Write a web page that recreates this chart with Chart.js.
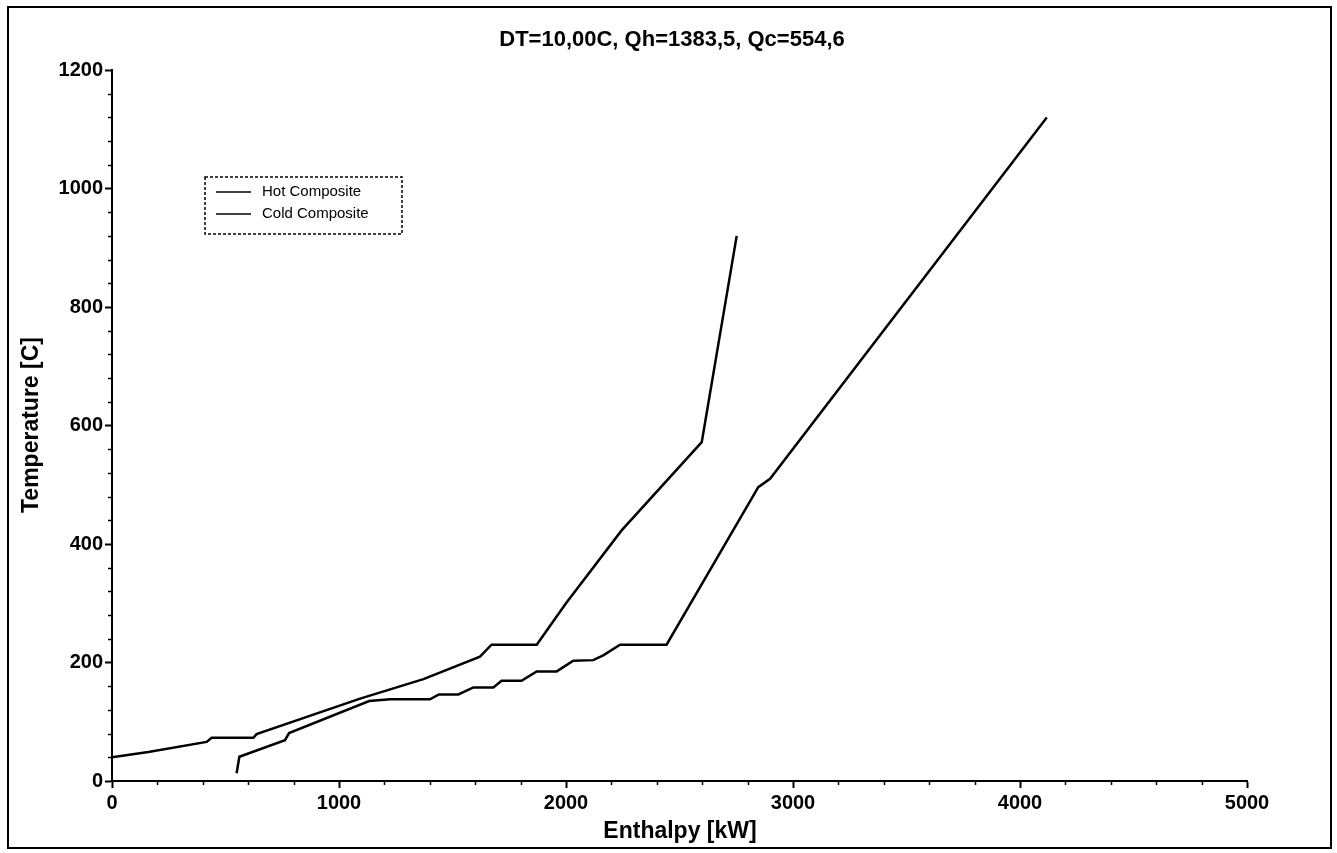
<!DOCTYPE html>
<html>
<head>
<meta charset="utf-8">
<title>Composite Curves</title>
<script src="https://cdn.jsdelivr.net/npm/chart.js@4.4.1/dist/chart.umd.min.js"></script>
<style>
  html, body { margin: 0; padding: 0; background: #fff; }
  #wrap { width: 1337px; height: 853px; position: relative; }
</style>
</head>
<body>
<div id="wrap"><canvas id="chartId"></canvas></div>
<script>
const chartTitle = "DT=10,00C, Qh=1383,5, Qc=554,6";
const xAxisTitle = "Enthalpy [kW]";
const yAxisTitle = "Temperature [C]";
const seriesNames = ["Hot Composite", "Cold Composite"];

// hot composite: enthalpy [kW] and temperature [C]
const hotEnthalpy = [0, 160, 417, 439, 623, 637, 1093, 1372, 1621, 1672, 1871, 2000, 2245, 2598, 2752];
const hotTemp = [40, 49, 66, 73, 73, 79, 139, 172, 210, 230, 230, 300, 423, 572, 920];

// cold composite
const coldEnthalpy = [549, 561, 762, 780, 1133, 1225, 1401, 1440, 1526, 1592, 1680, 1716, 1804, 1871, 1959, 2032, 2120, 2164, 2238, 2443, 2847, 2899, 4118];
const coldTemp = [13, 41, 69, 81, 135, 138, 138, 146, 146, 158, 158, 169, 169, 185, 185, 203, 204, 212, 230, 230, 496, 510, 1120];

const xRange = [0, 5000];
const yRange = [0, 1200];
const xMajorStep = 1000, xMinorStep = 200;
const yMajorStep = 200, yMinorStep = 40;

const FONT = '"Liberation Sans", Arial, sans-serif';

function toPoints(xs, ys) {
  return xs.map((x, i) => ({ x: x, y: ys[i] }));
}

// titles, frame, minor ticks and the boxed legend
const decorations = {
  id: 'decorations',
  beforeDraw(chart) {
    const ctx = chart.ctx;
    ctx.save();
    ctx.fillStyle = '#fff';
    ctx.fillRect(0, 0, chart.width, chart.height);
    ctx.restore();
  },
  afterDraw(chart) {
    const ctx = chart.ctx;
    const area = chart.chartArea;
    const xs = chart.scales.x, ys = chart.scales.y;
    ctx.save();

    ctx.strokeStyle = '#000';
    ctx.lineWidth = 2;
    ctx.strokeRect(8, 7, 1323, 841);

    // minor ticks
    ctx.lineWidth = 1.5;
    ctx.beginPath();
    xs.ticks.forEach(t => {
      if (t.value % xMajorStep !== 0) {
        const px = Math.round(xs.getPixelForValue(t.value)) + 0.5;
        ctx.moveTo(px, area.bottom);
        ctx.lineTo(px, area.bottom + 4);
      }
    });
    ys.ticks.forEach(t => {
      if (t.value % yMajorStep !== 0) {
        const py = Math.round(ys.getPixelForValue(t.value)) + 0.5;
        ctx.moveTo(area.left, py);
        ctx.lineTo(area.left - 4, py);
      }
    });
    ctx.stroke();

    ctx.fillStyle = '#000';
    ctx.textAlign = 'center';
    ctx.textBaseline = 'middle';
    ctx.font = 'bold 22px ' + FONT;
    ctx.fillText(chartTitle, 672, 40);

    ctx.font = 'bold 23px ' + FONT;
    ctx.fillText(xAxisTitle, 680, 832);
    ctx.save();
    ctx.translate(32, 425);
    ctx.rotate(-Math.PI / 2);
    ctx.fillText(yAxisTitle, 0, 0);
    ctx.restore();

    // legend box
    const lx = 205, ly = 177, lw = 197, lh = 57;
    ctx.setLineDash([3, 2]);
    ctx.lineWidth = 1.5;
    ctx.strokeRect(lx, ly, lw, lh);
    ctx.setLineDash([]);
    ctx.font = '15px ' + FONT;
    ctx.textAlign = 'left';
    chart.data.datasets.forEach((ds, i) => {
      const y = ly + 15 + i * 22;
      ctx.strokeStyle = ds.borderColor;
      ctx.lineWidth = 1.5;
      ctx.beginPath();
      ctx.moveTo(lx + 11, y);
      ctx.lineTo(lx + 46, y);
      ctx.stroke();
      ctx.fillText(ds.label, lx + 57, y);
    });
    ctx.restore();
  }
};

const chrt = document.getElementById('chartId').getContext('2d');

let chartConfig = {
  type: 'line',
  data: {
    datasets: [{
      label: seriesNames[0],
      data: toPoints(hotEnthalpy, hotTemp),
      borderColor: '#000',
      borderWidth: 2.5,
      pointRadius: 0,
      tension: 0,
      fill: false
    }, {
      label: seriesNames[1],
      data: toPoints(coldEnthalpy, coldTemp),
      borderColor: '#000',
      borderWidth: 2.5,
      pointRadius: 0,
      tension: 0,
      fill: false
    }]
  },
  options: {
    responsive: false,
    animation: false,
    layout: { padding: { left: 20, top: 70, right: 90, bottom: 0 } },
    plugins: {
      legend: { display: false },
      title: { display: false },
      tooltip: { enabled: false }
    },
    scales: {
      x: {
        type: 'linear',
        min: xRange[0],
        max: xRange[1],
        afterFit: (scale) => { scale.height = 72; },
        border: { display: true, color: '#000', width: 2 },
        grid: {
          drawOnChartArea: false,
          tickLength: 7,
          tickWidth: 2,
          tickColor: (c) => (c.tick && c.tick.value % xMajorStep === 0) ? '#000' : 'rgba(0,0,0,0)'
        },
        ticks: {
          stepSize: xMinorStep,
          autoSkip: false,
          maxRotation: 0,
          padding: 3,
          color: '#000',
          font: { family: FONT, size: 20, weight: 'bold' },
          callback: (v) => v % xMajorStep === 0 ? String(v) : ''
        }
      },
      y: {
        type: 'linear',
        min: yRange[0],
        max: yRange[1],
        afterFit: (scale) => { scale.width = 92; },
        border: { display: true, color: '#000', width: 2 },
        grid: {
          drawOnChartArea: false,
          tickLength: 7,
          tickWidth: 2,
          tickColor: (c) => (c.tick && c.tick.value % yMajorStep === 0) ? '#000' : 'rgba(0,0,0,0)'
        },
        ticks: {
          stepSize: yMinorStep,
          autoSkip: false,
          padding: 2,
          color: '#000',
          font: { family: FONT, size: 20, weight: 'bold' },
          callback: (v) => v % yMajorStep === 0 ? String(v) : ''
        }
      }
    }
  },
  plugins: [decorations]
};

const canvas = document.getElementById('chartId');
canvas.width = 1337;
canvas.height = 853;
window.compositeChart = new Chart(chrt, chartConfig);
</script>
</body>
</html>
